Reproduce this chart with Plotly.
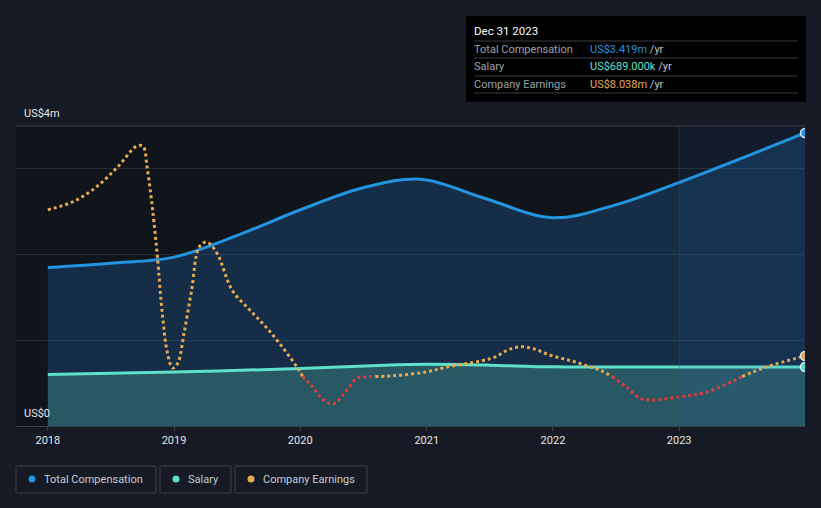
import plotly.graph_objects as go

# ---------------- data (US$ millions) ----------------
comp_dates = ["2018-01-01", "2018-07-01", "2019-01-01", "2019-07-01", "2019-12-31", "2020-07-01",
              "2020-12-15", "2021-06-15", "2021-12-31", "2022-07-01", "2022-12-31", "2023-12-31"]
comp_values = [1.85, 1.90, 1.97, 2.22, 2.52, 2.78, 2.88, 2.66, 2.43, 2.58, 2.84, 3.419]

salary_dates = ["2018-01-01", "2019-01-01", "2020-01-01", "2020-09-01", "2021-01-01",
                "2021-07-01", "2022-01-01", "2023-01-01", "2023-12-31"]
salary_values = [0.60, 0.63, 0.67, 0.71, 0.72, 0.71, 0.69, 0.689, 0.689]

earn_dates = ["2018-01-01", "2018-03-18", "2018-05-26", "2018-07-23", "2018-09-16", "2018-10-04",
              "2018-10-15", "2018-10-26", "2018-11-04", "2018-11-14", "2018-11-28", "2018-12-13",
              "2018-12-28", "2019-01-12", "2019-01-30", "2019-02-21", "2019-03-15", "2019-04-06",
              "2019-05-05", "2019-06-18", "2019-08-08", "2019-09-24", "2019-11-10", "2019-12-30",
              "2020-01-08", "2020-02-06", "2020-03-07", "2020-04-05", "2020-05-15", "2020-06-14",
              "2020-07-10", "2020-08-05", "2020-09-05", "2020-10-16", "2021-01-01", "2021-03-01",
              "2021-06-07", "2021-07-17", "2021-08-22", "2021-09-29", "2021-11-10", "2021-12-17",
              "2022-01-26", "2022-03-04", "2022-04-13", "2022-05-19", "2022-06-21", "2022-08-01",
              "2022-09-09", "2022-10-16", "2023-01-01", "2023-03-22", "2023-06-24", "2023-07-02",
              "2023-09-09", "2023-12-31"]
earn_values = [65.4, 68.7, 74.8, 82.3, 90.4, 90.1,
               82.2, 71.2, 60.6, 46.9, 24.9, 9.2,
               3.3, 5.3, 17.0, 33.9, 50.8, 52.7,
               48.4, 33.9, 26.1, 19.4, 11.6, 2.2,
               0.0, -4.1, -9.0, -10.8, -5.3, -0.6,
               -0.2, 0.0, 0.1, 0.5, 1.8, 3.7,
               6.1, 7.6, 10.3, 11.7, 10.7, 8.7,
               7.1, 5.8, 4.0, 2.4, 0.0, -4.1,
               -8.4, -9.2, -8.0, -6.1, -0.6, 0.0,
               3.7, 8.038]

year_ticks = ["2018-01-01", "2019-01-01", "2020-01-01", "2021-01-01", "2022-01-01", "2023-01-01"]
year_labels = ["2018", "2019", "2020", "2021", "2022", "2023"]

# ---------------- style ----------------
BG = "#151a24"
PLOT_BG = "#10141b"
BLUE = "#2394df"
TEAL = "#5fe0cb"
ORANGE = "#e8a94f"
RED = "#e03b3b"
FONT = "Roboto"

W, H = 821, 508
L, R, T, B = 16, 805, 126, 426


def px(x):
    return (x - L) / (R - L)


def py(y):
    return (B - y) / (B - T)


earn_pos = [v if v >= 0 else None for v in earn_values]
earn_neg = [v if v <= 0 else None for v in earn_values]

fig = go.Figure()

fig.add_trace(go.Scatter(
    x=comp_dates, y=comp_values, mode="lines", line=dict(color=BLUE, width=3, shape="spline", smoothing=1.0),
    fill="tozeroy", fillcolor="rgba(35,120,200,0.25)", hoverinfo="skip"))
fig.add_trace(go.Scatter(
    x=salary_dates, y=salary_values, mode="lines", line=dict(color=TEAL, width=3, shape="spline"),
    fill="tozeroy", fillcolor="rgba(100,220,190,0.25)", hoverinfo="skip"))
fig.add_trace(go.Scatter(
    x=earn_dates, y=earn_pos, mode="lines", yaxis="y2", connectgaps=False,
    line=dict(color=ORANGE, width=3, dash="3px,3px", shape="spline"), hoverinfo="skip"))
fig.add_trace(go.Scatter(
    x=earn_dates, y=earn_neg, mode="lines", yaxis="y2", connectgaps=False,
    line=dict(color=RED, width=3, dash="3px,3px", shape="spline"), hoverinfo="skip"))

# end markers
fig.add_trace(go.Scatter(x=[comp_dates[-1]], y=[comp_values[-1]], mode="markers",
                         marker=dict(size=9, color=BLUE, line=dict(color="#e8f0f8", width=1.5)),
                         hoverinfo="skip"))
fig.add_trace(go.Scatter(x=[salary_dates[-1]], y=[salary_values[-1]], mode="markers",
                         marker=dict(size=9, color=TEAL, line=dict(color="#e8f0f8", width=1.5)),
                         hoverinfo="skip"))
fig.add_trace(go.Scatter(x=[earn_dates[-1]], y=[earn_values[-1]], mode="markers", yaxis="y2",
                         marker=dict(size=9, color=ORANGE, line=dict(color="#e8f0f8", width=1.5)),
                         hoverinfo="skip"))

shapes = []
shapes.append(dict(type="rect", xref="x", yref="paper", x0="2023-01-01", x1="2023-12-31", y0=0, y1=1,
                   fillcolor="rgba(40,130,220,0.07)", line=dict(width=0), layer="above"))
shapes.append(dict(type="line", xref="x", yref="paper", x0="2023-01-01", x1="2023-01-01", y0=0, y1=1,
                   line=dict(color="rgba(60,80,100,0.45)", width=1), layer="above"))
shapes.append(dict(type="line", xref="paper", yref="paper", x0=0, x1=1, y0=1, y1=1,
                   line=dict(color="#3a3f48", width=1)))

# tooltip box
shapes.append(dict(type="rect", xref="paper", yref="paper", x0=px(466), x1=px(806), y0=py(16), y1=py(102),
                   fillcolor="#000000", line=dict(width=0)))
for yy in [41, 58, 76, 93]:
    shapes.append(dict(type="line", xref="paper", yref="paper", x0=px(474), x1=px(798), y0=py(yy), y1=py(yy),
                       line=dict(color="#3a3d42", width=1)))

# legend boxes
for x0, x1 in [(16, 156), (160, 231), (235, 367)]:
    shapes.append(dict(type="rect", xref="paper", yref="paper", x0=px(x0), x1=px(x1), y0=py(466), y1=py(493),
                       fillcolor="rgba(0,0,0,0)", line=dict(color="#3a3f4a", width=1)))
for cx, col in [(32, BLUE), (176, TEAL), (251, ORANGE)]:
    shapes.append(dict(type="circle", xref="paper", yref="paper", x0=px(cx - 3.5), x1=px(cx + 3.5),
                       y0=py(475.5), y1=py(482.5), fillcolor=col, line=dict(width=0)))

ann = []


def text(x, y, s, color, size=11, xanchor="left"):
    ann.append(dict(xref="paper", yref="paper", x=px(x), y=py(y), text=s,
                    showarrow=False, xanchor=xanchor, yanchor="middle",
                    font=dict(family=FONT, size=size, color=color)))


text(22, 114, "US$4m", "#e6e6e6", 11)
text(22, 413, "US$0", "#e6e6e6", 11)

text(472, 31, "Dec 31 2023", "#ffffff", 11.5)
rows = [("Total Compensation", "US$3.419m", BLUE, 49),
        ("Salary", "US$689.000k", TEAL, 66),
        ("Company Earnings", "US$8.038m", ORANGE, 84)]
for lab, val, col, yy in rows:
    text(472, yy, lab, "#9ea3a8", 11)
    ann.append(dict(xref="paper", yref="paper", x=px(588), y=py(yy),
                    text="<span style='color:%s'>%s</span><span style='color:#c4c7cb'> /yr</span>" % (col, val),
                    showarrow=False, xanchor="left", yanchor="middle",
                    font=dict(family=FONT, size=11, color=col)))

text(42, 479.5, "Total Compensation", "#c8ccd0", 11)
text(186, 479.5, "Salary", "#c8ccd0", 11)
text(261, 479.5, "Company Earnings", "#c8ccd0", 11)

fig.update_layout(
    width=W, height=H,
    margin=dict(l=L, r=W - R, t=T, b=H - B, pad=0),
    paper_bgcolor=BG, plot_bgcolor=PLOT_BG,
    showlegend=False, hovermode=False,
    font=dict(family=FONT, color="#e6e6e6", size=11),
    xaxis=dict(type="date", range=["2017-10-01", "2023-12-31"], tickvals=year_ticks, ticktext=year_labels,
               showgrid=False, zeroline=False, showline=True, linecolor="#3a3f48", linewidth=1,
               ticks="outside", ticklen=4, tickcolor="#3a3f48",
               tickfont=dict(family=FONT, size=11, color="#e6e6e6"), fixedrange=True),
    yaxis=dict(range=[0, 3.5], dtick=1, tick0=0, showticklabels=False, showgrid=True,
               gridcolor="#262b33", gridwidth=1, zeroline=False, fixedrange=True),
    yaxis2=dict(range=[-19.4, 98.2], overlaying="y", visible=False, showgrid=False, zeroline=False,
                fixedrange=True),
    shapes=shapes, annotations=ann,
)

fig.write_html("out.html", config={"displayModeBar": False},
               post_script="document.body.style.margin='0';document.body.style.background='%s';" % BG)
